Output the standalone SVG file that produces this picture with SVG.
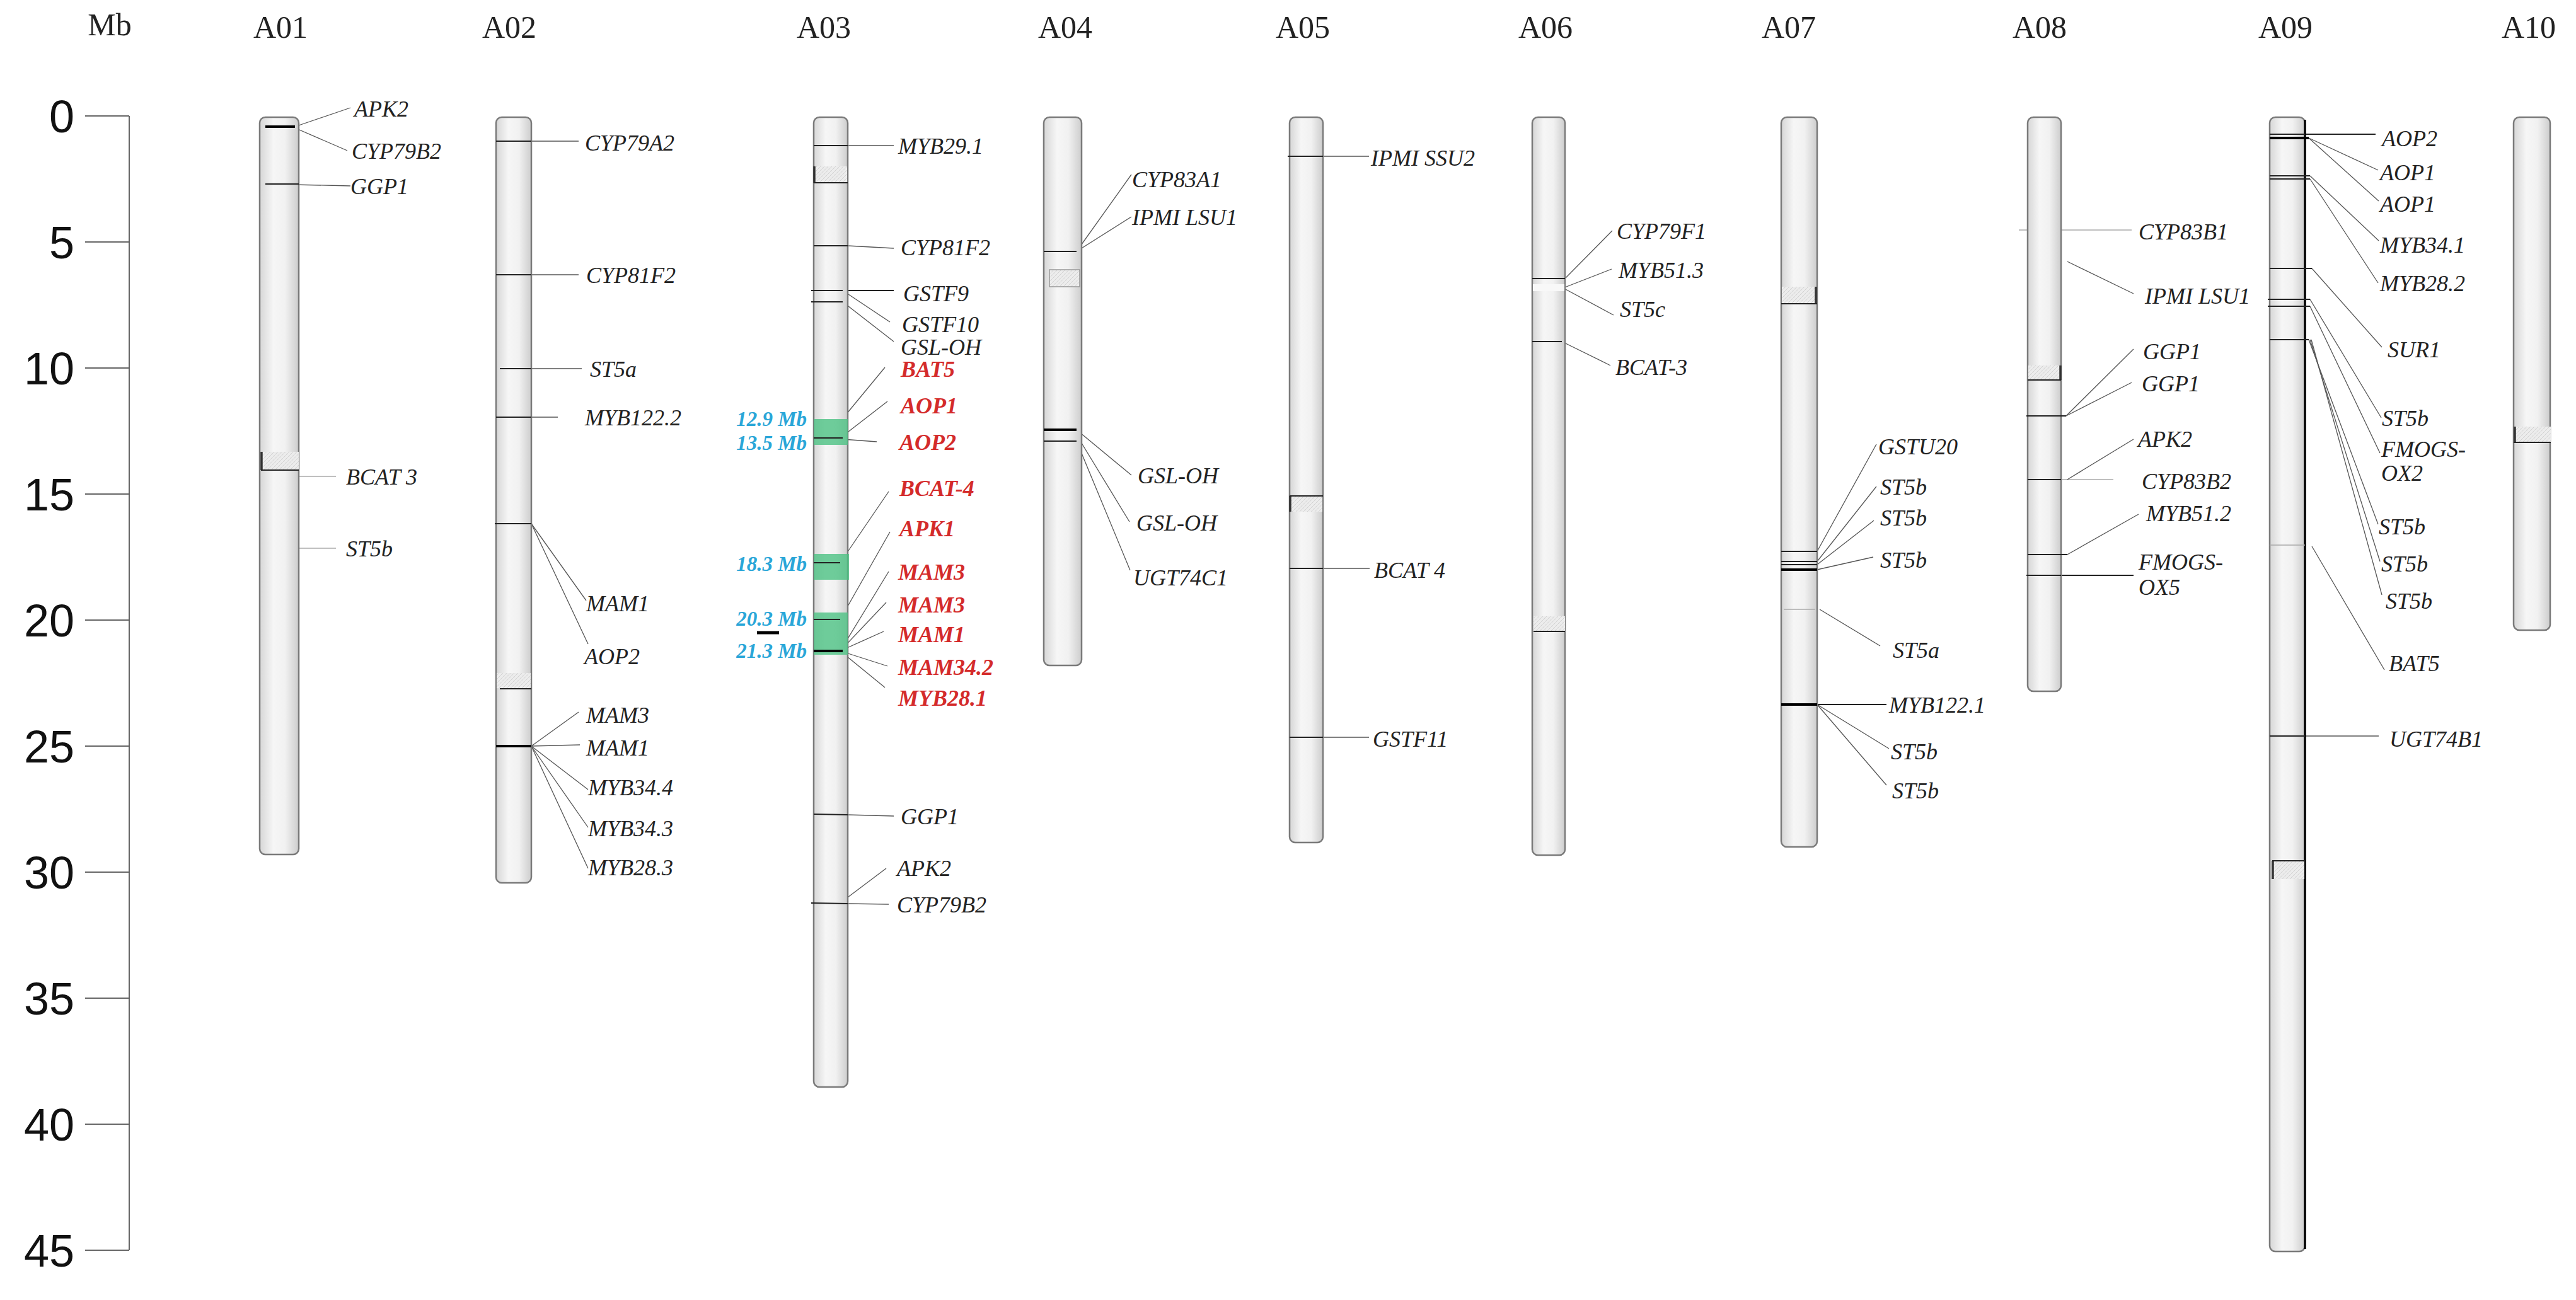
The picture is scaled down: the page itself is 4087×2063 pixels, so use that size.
<svg xmlns="http://www.w3.org/2000/svg" width="4087" height="2063" viewBox="0 0 4087 2063">
<defs>
<linearGradient id="cyl" x1="0" y1="0" x2="1" y2="0">
<stop offset="0" stop-color="#d6d6d6"/>
<stop offset="0.35" stop-color="#f6f6f6"/>
<stop offset="0.65" stop-color="#f1f1f1"/>
<stop offset="1" stop-color="#cdcdcd"/>
</linearGradient>
<pattern id="hp" width="6" height="6" patternUnits="userSpaceOnUse">
<rect width="6" height="6" fill="#ececec"/>
<path d="M0 6L6 0" stroke="#d2d2d2" stroke-width="1"/>
</pattern>
<style>
.chr{fill:url(#cyl);stroke:#7a7a7a;stroke-width:2.5}
.hat{fill:url(#hp)}
.edge{stroke:#333;stroke-width:3.5;fill:none}
.mk{stroke:#222;stroke-width:2;fill:none}
.mkb{stroke:#000;stroke-width:4;fill:none}
.mkf{stroke:#aaa;stroke-width:1.5;fill:none}
.ld{stroke:#555;stroke-width:1.3;fill:none}
.ttl{font-family:"Liberation Serif",serif;font-size:50px;fill:#222}
.ax{font-family:"Liberation Sans",sans-serif;font-size:72px;fill:#111}
.g{font-family:"Liberation Serif",serif;font-style:italic;font-size:36px;fill:#222}
.r{font-family:"Liberation Serif",serif;font-style:italic;font-weight:bold;font-size:36px;fill:#d42b2b}
.b{font-family:"Liberation Serif",serif;font-style:italic;font-weight:bold;font-size:33px;fill:#2aa6d8;text-anchor:end}
.grn{fill:#4cc283;fill-opacity:0.8}
</style>
</defs>
<rect width="4087" height="2063" fill="#ffffff"/>

<g id="axis">
<text class="ttl" x="174" y="56" text-anchor="middle">Mb</text>
<line x1="205" y1="184" x2="205" y2="1984" stroke="#666" stroke-width="2"/>
<g stroke="#666" stroke-width="2">
<line x1="135" y1="184" x2="205" y2="184"/><line x1="135" y1="384" x2="205" y2="384"/>
<line x1="135" y1="584" x2="205" y2="584"/><line x1="135" y1="784" x2="205" y2="784"/>
<line x1="135" y1="984" x2="205" y2="984"/><line x1="135" y1="1184" x2="205" y2="1184"/>
<line x1="135" y1="1384" x2="205" y2="1384"/><line x1="135" y1="1584" x2="205" y2="1584"/>
<line x1="135" y1="1784" x2="205" y2="1784"/><line x1="135" y1="1984" x2="205" y2="1984"/>
</g>
<g class="ax" text-anchor="end">
<text x="118" y="210">0</text><text x="118" y="410">5</text><text x="118" y="610">10</text>
<text x="118" y="810">15</text><text x="118" y="1010">20</text><text x="118" y="1210">25</text>
<text x="118" y="1410">30</text><text x="118" y="1610">35</text><text x="118" y="1810">40</text>
<text x="118" y="2010">45</text>
</g>
</g>

<g id="connectors">
<!-- A01 -->
<line class="ld" x1="468" y1="201" x2="556" y2="171"/>
<line class="ld" x1="468" y1="203" x2="551" y2="239"/>
<line class="ld" x1="421" y1="292" x2="556" y2="295"/>
<line class="mkf" x1="415" y1="756" x2="533" y2="756"/>
<line class="mkf" x1="412" y1="870" x2="533" y2="870"/>
<!-- A02 -->
<line class="ld" x1="843" y1="224" x2="918" y2="224"/>
<line class="ld" x1="843" y1="436" x2="918" y2="436"/>
<line class="ld" x1="843" y1="585" x2="923" y2="585"/>
<line class="ld" x1="843" y1="662" x2="885" y2="662"/>
<line class="ld" x1="843" y1="831" x2="930" y2="953"/>
<line class="ld" x1="843" y1="831" x2="933" y2="1022"/>
<line class="ld" x1="843" y1="1184" x2="918" y2="1130"/>
<line class="ld" x1="843" y1="1184" x2="920" y2="1182"/>
<line class="ld" x1="843" y1="1184" x2="933" y2="1253"/>
<line class="ld" x1="843" y1="1184" x2="933" y2="1313"/>
<line class="ld" x1="843" y1="1184" x2="933" y2="1378"/>
<!-- A03 -->
<line class="ld" x1="1345" y1="231" x2="1418" y2="231"/>
<line class="ld" x1="1345" y1="390" x2="1418" y2="394"/>
<line class="mk" x1="1337" y1="461" x2="1418" y2="461"/>
<line class="ld" x1="1337" y1="461" x2="1412" y2="511"/>
<line class="ld" x1="1337" y1="479" x2="1418" y2="542"/>
<line class="ld" x1="1333" y1="669" x2="1404" y2="583"/>
<line class="ld" x1="1337" y1="692" x2="1408" y2="637"/>
<line class="ld" x1="1337" y1="697" x2="1391" y2="701"/>
<line class="ld" x1="1333" y1="893" x2="1410" y2="780"/>
<line class="ld" x1="1333" y1="983" x2="1412" y2="844"/>
<line class="ld" x1="1333" y1="1033" x2="1410" y2="907"/>
<line class="ld" x1="1333" y1="1033" x2="1406" y2="956"/>
<line class="ld" x1="1333" y1="1033" x2="1402" y2="1002"/>
<line class="ld" x1="1333" y1="1033" x2="1408" y2="1057"/>
<line class="ld" x1="1333" y1="1033" x2="1404" y2="1091"/>
<line class="ld" x1="1345" y1="1293" x2="1418" y2="1295"/>
<line class="ld" x1="1345" y1="1434" x2="1410" y2="1435"/>
<line class="ld" x1="1333" y1="1433" x2="1406" y2="1378"/>
<!-- A04 -->
<line class="ld" x1="1708" y1="399" x2="1795" y2="277"/>
<line class="ld" x1="1708" y1="399" x2="1795" y2="344"/>
<line class="ld" x1="1708" y1="682" x2="1795" y2="754"/>
<line class="ld" x1="1708" y1="690" x2="1792" y2="828"/>
<line class="ld" x1="1708" y1="700" x2="1793" y2="905"/>
<!-- A05 -->
<line class="ld" x1="2099" y1="248" x2="2172" y2="248"/>
<line class="ld" x1="2099" y1="902" x2="2173" y2="902"/>
<line class="ld" x1="2099" y1="1170" x2="2172" y2="1170"/>
<!-- A06 -->
<line class="ld" x1="2483" y1="442" x2="2558" y2="366"/>
<line class="ld" x1="2480" y1="457" x2="2557" y2="427"/>
<line class="ld" x1="2480" y1="457" x2="2560" y2="500"/>
<line class="ld" x1="2478" y1="542" x2="2555" y2="580"/>
<!-- A07 -->
<line class="ld" x1="2883" y1="875" x2="2977" y2="705"/>
<line class="ld" x1="2883" y1="891" x2="2977" y2="772"/>
<line class="ld" x1="2883" y1="896" x2="2973" y2="826"/>
<line class="ld" x1="2883" y1="904" x2="2972" y2="884"/>
<line class="ld" x1="2887" y1="967" x2="2983" y2="1025"/>
<line class="mk" x1="2883" y1="1118" x2="2993" y2="1118"/>
<line class="ld" x1="2883" y1="1118" x2="2997" y2="1188"/>
<line class="ld" x1="2883" y1="1118" x2="2993" y2="1246"/>
<!-- A08 -->
<line class="mkf" x1="3203" y1="365" x2="3382" y2="365"/>
<line class="ld" x1="3280" y1="415" x2="3385" y2="466"/>
<line class="ld" x1="3278" y1="660" x2="3385" y2="554"/>
<line class="ld" x1="3278" y1="660" x2="3382" y2="607"/>
<line class="mkf" x1="3270" y1="761" x2="3353" y2="761"/>
<line class="ld" x1="3280" y1="761" x2="3385" y2="697"/>
<line class="ld" x1="3280" y1="880" x2="3393" y2="816"/>
<line class="mk" x1="3270" y1="913" x2="3385" y2="913"/>
<!-- A09 -->
<line class="mk" x1="3657" y1="213" x2="3769" y2="213"/>
<line class="ld" x1="3663" y1="219" x2="3773" y2="270"/>
<line class="ld" x1="3663" y1="219" x2="3774" y2="319"/>
<line class="ld" x1="3665" y1="279" x2="3774" y2="382"/>
<line class="ld" x1="3665" y1="284" x2="3773" y2="449"/>
<line class="ld" x1="3668" y1="426" x2="3779" y2="551"/>
<line class="ld" x1="3665" y1="475" x2="3778" y2="663"/>
<line class="ld" x1="3665" y1="486" x2="3776" y2="719"/>
<line class="ld" x1="3663" y1="539" x2="3773" y2="832"/>
<line class="ld" x1="3665" y1="539" x2="3776" y2="891"/>
<line class="ld" x1="3667" y1="539" x2="3779" y2="944"/>
<line class="ld" x1="3668" y1="867" x2="3783" y2="1063"/>
<line class="ld" x1="3657" y1="1168" x2="3774" y2="1168"/>
</g>

<g id="A01">
<text class="ttl" x="445" y="60" text-anchor="middle">A01</text>
<rect class="chr" x="412" y="186" width="62" height="1170" rx="9"/>
<line class="mkb" x1="421" y1="201" x2="468" y2="201"/>
<line class="mk" x1="421" y1="292" x2="474" y2="292"/>
<rect class="hat" x="414" y="717" width="60" height="29"/>
<line class="edge" x1="415" y1="717" x2="415" y2="746"/>
<line class="mk" x1="414" y1="746" x2="474" y2="746"/>
<text class="g" x="562" y="185">APK2</text>
<text class="g" x="558" y="252">CYP79B2</text>
<text class="g" x="556" y="308">GGP1</text>
<text class="g" x="549" y="769">BCAT 3</text>
<text class="g" x="549" y="883">ST5b</text>
</g>

<g id="A02">
<text class="ttl" x="808" y="60" text-anchor="middle">A02</text>
<rect class="chr" x="787" y="186" width="56" height="1215" rx="9"/>
<line class="mk" x1="787" y1="224" x2="843" y2="224"/>
<line class="mk" x1="787" y1="436" x2="843" y2="436"/>
<line class="mk" x1="793" y1="585" x2="843" y2="585"/>
<line class="mk" x1="787" y1="662" x2="843" y2="662"/>
<line class="mk" x1="785" y1="831" x2="843" y2="831"/>
<rect class="hat" x="788" y="1068" width="54" height="24"/>
<line class="mk" x1="793" y1="1093" x2="843" y2="1093"/>
<line class="mkb" x1="787" y1="1184" x2="843" y2="1184"/>
<text class="g" x="928" y="239">CYP79A2</text>
<text class="g" x="930" y="449">CYP81F2</text>
<text class="g" x="936" y="598">ST5a</text>
<text class="g" x="928" y="675">MYB122.2</text>
<text class="g" x="930" y="970">MAM1</text>
<text class="g" x="927" y="1054">AOP2</text>
<text class="g" x="930" y="1147">MAM3</text>
<text class="g" x="930" y="1199">MAM1</text>
<text class="g" x="933" y="1262">MYB34.4</text>
<text class="g" x="933" y="1327">MYB34.3</text>
<text class="g" x="933" y="1389">MYB28.3</text>
</g>

<g id="A03">
<text class="ttl" x="1307" y="60" text-anchor="middle">A03</text>
<rect class="chr" x="1291" y="186" width="54" height="1539" rx="9"/>
<line class="mk" x1="1291" y1="231" x2="1345" y2="231"/>
<rect class="hat" x="1292" y="264" width="52" height="26"/>
<line class="edge" x1="1292" y1="264" x2="1292" y2="290"/>
<line class="mk" x1="1291" y1="290" x2="1345" y2="290"/>
<line class="mk" x1="1291" y1="390" x2="1345" y2="390"/>
<line class="mk" x1="1287" y1="461" x2="1337" y2="461"/>
<line class="mk" x1="1287" y1="479" x2="1337" y2="479"/>
<rect class="grn" x="1291" y="665" width="54" height="41"/>
<line class="mk" x1="1291" y1="695" x2="1337" y2="695"/>
<rect class="grn" x="1291" y="879" width="56" height="41"/>
<line class="mk" x1="1291" y1="893" x2="1333" y2="893"/>
<rect class="grn" x="1291" y="972" width="54" height="67"/>
<line class="mk" x1="1291" y1="983" x2="1333" y2="983"/>
<line class="mkb" x1="1291" y1="1033" x2="1337" y2="1033" stroke="#163d22"/>
<line class="mk" x1="1291" y1="1292" x2="1345" y2="1293"/>
<line class="mk" x1="1287" y1="1433" x2="1345" y2="1434"/>
<text class="g" x="1425" y="244">MYB29.1</text>
<text class="g" x="1429" y="405">CYP81F2</text>
<text class="g" x="1433" y="478">GSTF9</text>
<text class="g" x="1431" y="527">GSTF10</text>
<text class="g" x="1429" y="563">GSL-OH</text>
<text class="r" x="1429" y="598">BAT5</text>
<text class="r" x="1429" y="656">AOP1</text>
<text class="r" x="1427" y="714">AOP2</text>
<text class="r" x="1427" y="787">BCAT-4</text>
<text class="r" x="1427" y="851">APK1</text>
<text class="r" x="1425" y="920">MAM3</text>
<text class="r" x="1425" y="972">MAM3</text>
<text class="r" x="1425" y="1019">MAM1</text>
<text class="r" x="1425" y="1071">MAM34.2</text>
<text class="r" x="1425" y="1120">MYB28.1</text>
<text class="b" x="1280" y="676">12.9 Mb</text>
<text class="b" x="1280" y="714">13.5 Mb</text>
<text class="b" x="1280" y="906">18.3 Mb</text>
<text class="b" x="1280" y="993">20.3 Mb</text>
<line x1="1201" y1="1004" x2="1236" y2="1004" stroke="#000" stroke-width="5"/>
<text class="b" x="1280" y="1044">21.3 Mb</text>
<text class="g" x="1429" y="1308">GGP1</text>
<text class="g" x="1423" y="1390">APK2</text>
<text class="g" x="1423" y="1448">CYP79B2</text>
</g>

<g id="A04">
<text class="ttl" x="1690" y="60" text-anchor="middle">A04</text>
<rect class="chr" x="1656" y="186" width="60" height="870" rx="9"/>
<line class="mk" x1="1656" y1="399" x2="1708" y2="399"/>
<rect class="hat" x="1665" y="428" width="48" height="27" stroke="#999" stroke-width="1.5"/>
<line class="mkb" x1="1656" y1="682" x2="1708" y2="682" stroke="#333"/>
<line class="mk" x1="1656" y1="700" x2="1708" y2="700"/>
<text class="g" x="1796" y="297">CYP83A1</text>
<text class="g" x="1796" y="357">IPMI LSU1</text>
<text class="g" x="1805" y="767">GSL-OH</text>
<text class="g" x="1803" y="842">GSL-OH</text>
<text class="g" x="1798" y="929">UGT74C1</text>
</g>

<g id="A05">
<text class="ttl" x="2067" y="60" text-anchor="middle">A05</text>
<rect class="chr" x="2046" y="186" width="53" height="1151" rx="9"/>
<line class="mk" x1="2043" y1="248" x2="2099" y2="248"/>
<rect class="hat" x="2047" y="787" width="51" height="25"/>
<line class="edge" x1="2047" y1="787" x2="2047" y2="812"/>
<line class="mk" x1="2046" y1="787" x2="2099" y2="787"/>
<line class="mk" x1="2046" y1="902" x2="2099" y2="902"/>
<line class="mk" x1="2046" y1="1170" x2="2099" y2="1170"/>
<text class="g" x="2175" y="263">IPMI SSU2</text>
<text class="g" x="2180" y="917">BCAT 4</text>
<text class="g" x="2178" y="1185">GSTF11</text>
</g>

<g id="A06">
<text class="ttl" x="2452" y="60" text-anchor="middle">A06</text>
<rect class="chr" x="2431" y="186" width="52" height="1171" rx="9"/>
<line class="mk" x1="2431" y1="442" x2="2483" y2="442"/>
<rect x="2432" y="451" width="50" height="11" fill="#f8f8f8"/>
<line class="mk" x1="2431" y1="542" x2="2478" y2="542"/>
<rect class="hat" x="2433" y="978" width="50" height="24"/>
<line class="mk" x1="2433" y1="1002" x2="2483" y2="1002"/>
<text class="g" x="2565" y="379">CYP79F1</text>
<text class="g" x="2568" y="441">MYB51.3</text>
<text class="g" x="2570" y="503">ST5c</text>
<text class="g" x="2563" y="595">BCAT-3</text>
</g>

<g id="A07">
<text class="ttl" x="2838" y="60" text-anchor="middle">A07</text>
<rect class="chr" x="2826" y="186" width="57" height="1158" rx="9"/>
<rect class="hat" x="2827" y="455" width="55" height="27"/>
<line class="edge" x1="2881" y1="455" x2="2881" y2="482"/>
<line class="mk" x1="2826" y1="482" x2="2883" y2="482"/>
<line class="mk" x1="2826" y1="875" x2="2883" y2="875"/>
<line class="mk" x1="2826" y1="891" x2="2883" y2="891" stroke-width="1.5"/>
<line class="mk" x1="2826" y1="896" x2="2883" y2="896" stroke-width="1.5"/>
<line class="mkb" x1="2826" y1="904" x2="2883" y2="904" stroke-width="3"/>
<line class="mkf" x1="2830" y1="967" x2="2880" y2="967"/>
<line class="mkb" x1="2826" y1="1118" x2="2883" y2="1118"/>
<text class="g" x="2980" y="721">GSTU20</text>
<text class="g" x="2983" y="785">ST5b</text>
<text class="g" x="2983" y="834">ST5b</text>
<text class="g" x="2983" y="901">ST5b</text>
<text class="g" x="3003" y="1044">ST5a</text>
<text class="g" x="2997" y="1131">MYB122.1</text>
<text class="g" x="3000" y="1205">ST5b</text>
<text class="g" x="3002" y="1267">ST5b</text>
</g>

<g id="A08">
<text class="ttl" x="3236" y="60" text-anchor="middle">A08</text>
<rect class="chr" x="3217" y="186" width="53" height="911" rx="9"/>
<rect class="hat" x="3218" y="580" width="51" height="23"/>
<line class="edge" x1="3269" y1="580" x2="3269" y2="603"/>
<line class="mk" x1="3217" y1="603" x2="3270" y2="603"/>
<line class="mk" x1="3215" y1="660" x2="3278" y2="660"/>
<line class="mk" x1="3217" y1="761" x2="3270" y2="761"/>
<line class="mk" x1="3217" y1="880" x2="3280" y2="880"/>
<line class="mk" x1="3215" y1="913" x2="3270" y2="913"/>
<text class="g" x="3393" y="380">CYP83B1</text>
<text class="g" x="3403" y="482">IPMI LSU1</text>
<text class="g" x="3400" y="570">GGP1</text>
<text class="g" x="3398" y="621">GGP1</text>
<text class="g" x="3392" y="709">APK2</text>
<text class="g" x="3398" y="776">CYP83B2</text>
<text class="g" x="3405" y="827">MYB51.2</text>
<text class="g" x="3393" y="904">FMOGS-</text>
<text class="g" x="3393" y="944">OX5</text>
</g>

<g id="A09">
<text class="ttl" x="3626" y="60" text-anchor="middle">A09</text>
<rect class="chr" x="3601" y="186" width="56" height="1800" rx="9"/>
<line x1="3657" y1="190" x2="3657" y2="1982" stroke="#000" stroke-width="3.5"/>
<line class="mk" x1="3601" y1="213" x2="3657" y2="213"/>
<line class="mkb" x1="3601" y1="219" x2="3663" y2="219" stroke-width="3"/>
<line class="mk" x1="3601" y1="279" x2="3665" y2="279"/>
<line class="mk" x1="3601" y1="284" x2="3665" y2="284"/>
<line class="mk" x1="3601" y1="426" x2="3668" y2="426"/>
<line class="mk" x1="3598" y1="475" x2="3665" y2="475"/>
<line class="mk" x1="3598" y1="486" x2="3665" y2="486"/>
<line class="mk" x1="3601" y1="539" x2="3663" y2="539"/>
<line class="mkf" x1="3601" y1="865" x2="3657" y2="865" stroke="#d0d0d0"/>
<line class="mk" x1="3601" y1="1168" x2="3657" y2="1168"/>
<rect class="hat" x="3605" y="1366" width="51" height="29"/>
<line class="edge" x1="3606" y1="1366" x2="3606" y2="1395"/>
<line class="mk" x1="3605" y1="1366" x2="3657" y2="1366"/>
<text class="g" x="3779" y="232">AOP2</text>
<text class="g" x="3776" y="286">AOP1</text>
<text class="g" x="3776" y="336">AOP1</text>
<text class="g" x="3776" y="401">MYB34.1</text>
<text class="g" x="3776" y="462">MYB28.2</text>
<text class="g" x="3788" y="567">SUR1</text>
<text class="g" x="3779" y="676">ST5b</text>
<text class="g" x="3778" y="725">FMOGS-</text>
<text class="g" x="3778" y="763">OX2</text>
<text class="g" x="3774" y="848">ST5b</text>
<text class="g" x="3778" y="907">ST5b</text>
<text class="g" x="3785" y="966">ST5b</text>
<text class="g" x="3790" y="1065">BAT5</text>
<text class="g" x="3791" y="1185">UGT74B1</text>
</g>

<g id="A10">
<text class="ttl" x="4012" y="60" text-anchor="middle">A10</text>
<rect class="chr" x="3988" y="186" width="58" height="814" rx="9"/>
<rect class="hat" x="3989" y="677" width="58" height="25"/>
<line class="edge" x1="3990" y1="677" x2="3990" y2="702"/>
<line class="mk" x1="3988" y1="702" x2="4047" y2="702"/>
</g>
</svg>
